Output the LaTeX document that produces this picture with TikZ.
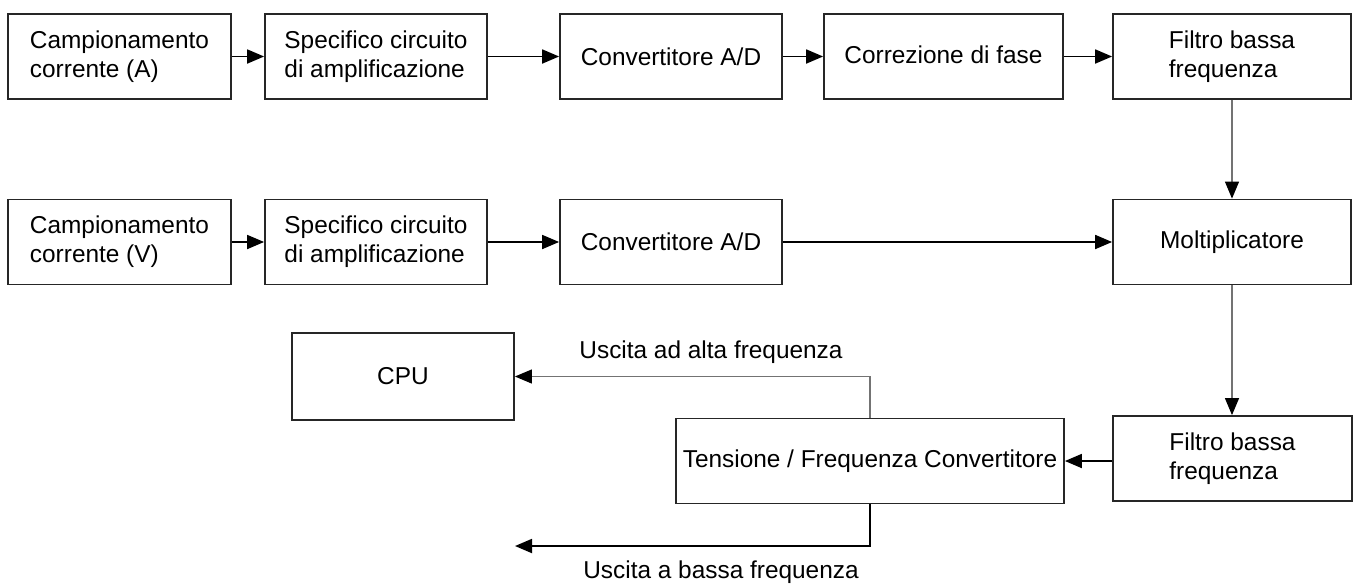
\documentclass[tikz,border=0pt]{standalone}
\usepackage{fontspec}
\setmainfont{Liberation Sans}
\usetikzlibrary{arrows.meta}

\tikzset{
  blk/.style={draw=black!85, line width=0.9pt, minimum height=42.5pt, align=left,
    inner sep=0pt, font=\fontsize{12.2}{14.5}\selectfont},
  lbl/.style={inner sep=0pt, font=\fontsize{12.2}{14.5}\selectfont},
  conn/.style={line width=0.9pt, -{Triangle[length=8.5pt,width=7pt]}},
  gconn/.style={draw=black!55, line width=0.6pt, -{Triangle[length=8.5pt,width=7pt,color=black]}}
}

\begin{document}
\begin{tikzpicture}[x=0.5pt,y=0.5pt,yscale=-1,xscale=1]
%set diagram frame to the reference size
\useasboundingbox (0,0) rectangle (1357,585);

%Shape: Rectangle, first row
\node[blk, minimum width=111.5pt] (campA) at (119.5,56.5) {Campionamento\\corrente (A)};
\node[blk, minimum width=111pt] (amplA) at (376,56.5) {Specifico circuito\\di amplificazione};
\node[blk, minimum width=111pt] (adcA) at (671,56.5) {Convertitore A/D};
\node[blk, minimum width=119.5pt] (fase) at (943.5,56.5) {\raisebox{2pt}{Correzione di fase}};
\node[blk, minimum width=119pt] (filtA) at (1232,56.5) {Filtro bassa\\frequenza};

%Shape: Rectangle, second row
\node[blk, minimum width=111.5pt] (campV) at (119.5,242) {Campionamento\\corrente (V)};
\node[blk, minimum width=111pt] (amplV) at (376,242) {Specifico circuito\\di amplificazione};
\node[blk, minimum width=111pt] (adcV) at (671,242) {Convertitore A/D};
\node[blk, minimum width=119pt] (molt) at (1232,242) {Moltiplicatore};

%Shape: Rectangle, third row
\node[blk, minimum width=111pt, minimum height=43.5pt] (cpu) at (403,376.5) {CPU};
\node[blk, minimum width=194pt] (tfc) at (870,461) {Tensione / Frequenza Convertitore};
\node[blk, minimum width=119.5pt] (filtB) at (1232.5,458.5) {Filtro bassa\\frequenza};

%Straight Lines
\draw[conn] (campA) -- (amplA);
\draw[conn] (amplA) -- (adcA);
\draw[conn] (adcA) -- (fase);
\draw[conn] (fase) -- (filtA);
\draw[conn] (campV) -- (amplV);
\draw[conn] (amplV) -- (adcV);
\draw[conn] (adcV) -- (molt);
\draw[gconn] (filtA.south) -- (filtA.south |- molt.north);
\draw[gconn] (molt.south) -- (molt.south |- filtB.north);
\draw[conn] (filtB.west |- tfc.east) -- (tfc.east);
\draw[gconn] (tfc.north) |- (cpu.east);
\coordinate (lowOut) at (515,546);
\draw[conn] (tfc.south) |- (lowOut);

% Text Node
\node[lbl] (hiLbl) at (711,352) {Uscita ad alta frequenza};
% Text Node
\node[lbl] (loLbl) at (721,572) {Uscita a bassa frequenza};

\end{tikzpicture}
\end{document}
